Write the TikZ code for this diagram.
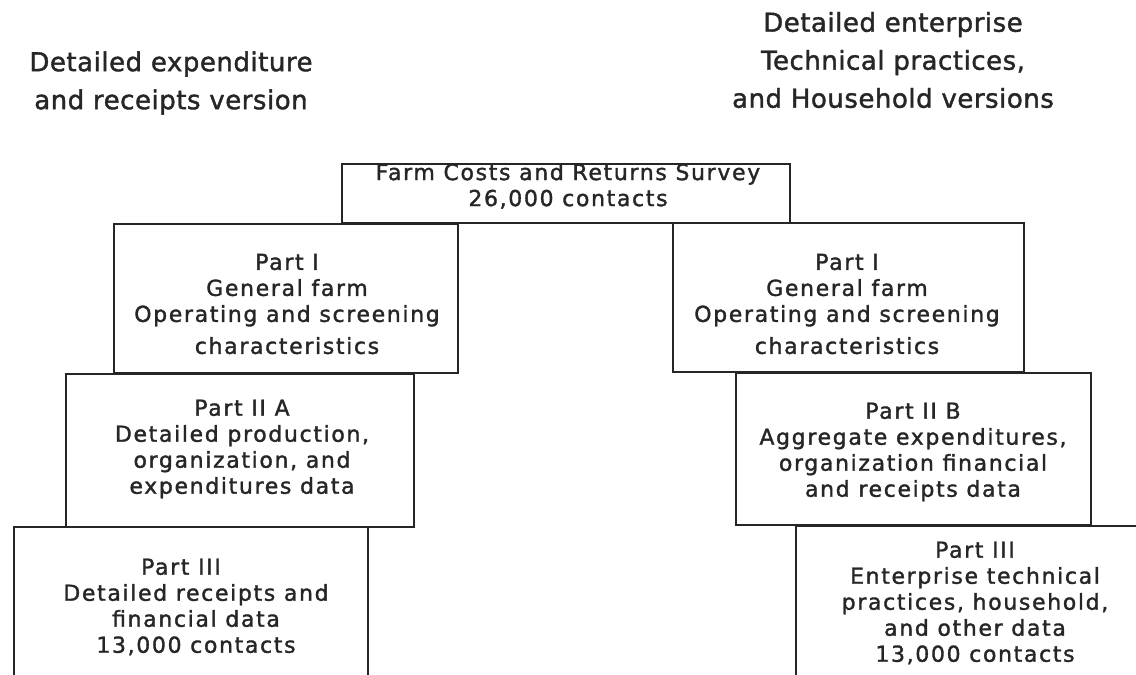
\documentclass[tikz,border=0pt]{standalone}
\usepackage{fontspec}
\setmainfont{DejaVu Sans}
\newfontfamily\boxfont[LetterSpace=7.5,FakeBold=1.5]{DejaVu Sans}
\newfontfamily\hdrfont[LetterSpace=2,FakeBold=1.5]{DejaVu Sans}
\begin{document}
\begin{tikzpicture}[x=1pt,y=-1pt,
  box/.style={draw=black!85,line width=1.7pt,anchor=north west,inner sep=0pt},
  txt/.style={align=center,inner sep=0pt,text=black!85,font=\boxfont\fontsize{22}{26}\selectfont},
  hdr/.style={align=center,inner sep=0pt,text=black!85,font=\hdrfont\fontsize{26}{38}\selectfont}]
\path[use as bounding box] (0,0) rectangle (1136,675);
\clip (0,0) rectangle (1136,675);
% boxes
\node[box,minimum width=448pt,minimum height=59pt] (survey) at (341,163) {};
\node[box,minimum width=344pt,minimum height=149pt] (p1l) at (113,223) {};
\node[box,minimum width=351pt,minimum height=149pt] (p1r) at (672,222) {};
\node[box,minimum width=348pt,minimum height=153pt] (p2a) at (65,373) {};
\node[box,minimum width=355pt,minimum height=152pt] (p2b) at (735,372) {};
\node[box,minimum width=354pt,minimum height=200pt] (p3l) at (13,526) {};
\node[box,minimum width=400pt,minimum height=200pt] (p3r) at (795,525) {};
% headers
\node[hdr] (hl) at (171,83) {Detailed expenditure\\and receipts version};
\node[hdr] (hr) at (893,60) {Detailed enterprise\\Technical practices,\\and Household versions};
% texts
\node[txt] (tsurvey) at (568,186) {Farm Costs and Returns Survey\\26,000 contacts};
\node[txt] (tp1l) at (287,304) {Part I\\General farm\\Operating and screening\\[6pt]characteristics};
\node[txt] (tp1r) at (847,304) {Part I\\General farm\\Operating and screening\\[6pt]characteristics};
\node[txt] (tp2a) at (242,449) {Part II A\\Detailed production,\\organization, and\\expenditures data};
\node[txt] (tp2b) at (913,452) {Part II B\\Aggregate expenditures,\\organization financial\\and receipts data};
\node[txt] (tp3l) at (196,607) {\hspace*{-30pt}Part III\\Detailed receipts and\\financial data\\13,000 contacts};
\node[txt] (tp3r) at (975,603) {Part III\\Enterprise technical\\practices, household,\\and other data\\13,000 contacts};
\end{tikzpicture}
\end{document}
